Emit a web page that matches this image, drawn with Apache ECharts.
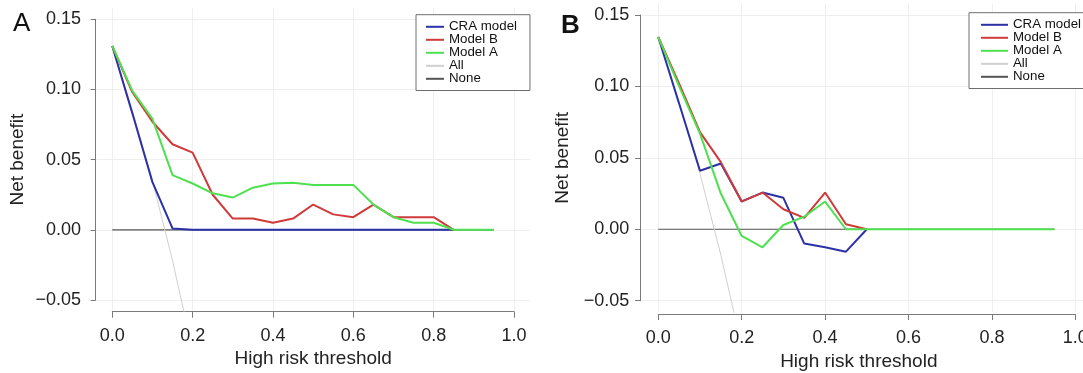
<!DOCTYPE html>
<html>
<head>
<meta charset="utf-8">
<script src="https://cdn.jsdelivr.net/npm/echarts@6/dist/echarts.min.js"></script>
<style>
  html, body { margin: 0; padding: 0; background: #fff; }
  #chart { width: 1083px; height: 373px; }
</style>
</head>
<body>
<div id="chart"></div>
<script>
// thresholds shared by every curve
const thresholds = [0, 0.05, 0.1, 0.15, 0.2, 0.25, 0.3, 0.35, 0.4, 0.45, 0.5, 0.55, 0.6, 0.65, 0.7, 0.75, 0.8, 0.85, 0.9, 0.95];
const xTicks = [0, 0.2, 0.4, 0.6, 0.8, 1.0];
const xTickLabels = ['0.0', '0.2', '0.4', '0.6', '0.8', '1.0'];
const yTicks = [-0.05, 0, 0.05, 0.1, 0.15];
const yTickLabels = ['\u22120.05', '0.00', '0.05', '0.10', '0.15'];
const seriesNames = ['CRA model', 'Model B', 'Model A', 'All', 'None'];

// panel A
const craA = [0.131, 0.083, 0.034, 0.001, 0, 0, 0, 0, 0, 0, 0, 0, 0, 0, 0, 0, 0, 0, null, null];
const modelBA = [0.131, 0.098, 0.077, 0.061, 0.055, 0.025, 0.008, 0.008, 0.005, 0.008, 0.018, 0.011, 0.009, 0.018, 0.009, 0.009, 0.009, 0, null, null];
const modelAA = [0.131, 0.099, 0.079, 0.039, 0.033, 0.026, 0.023, 0.030, 0.033, 0.0335, 0.032, 0.032, 0.032, 0.018, 0.009, 0.005, 0.005, 0, 0, 0];
const allA = [0.131, 0.085, 0.035, -0.022, -0.086];
const noneA = [0, 0, 0, 0, 0, 0, 0, 0, 0, 0, 0, 0, 0, 0, 0, 0, 0, 0, 0, 0];

// panel B
const craB = [0.1346, 0.088, 0.041, 0.046, 0.0195, 0.0257, 0.022, -0.010, -0.0126, -0.0157, 0, null, null, null, null, null, null, null, null, null];
const modelBB = [0.1346, 0.102, 0.068, 0.047, 0.0194, 0.0257, 0.014, 0.008, 0.0257, 0.0035, 0, null, null, null, null, null, null, null, null, null];
const modelAB = [0.1346, 0.100, 0.067, 0.025, -0.0047, -0.0126, 0.003, 0.0088, 0.0194, 0, 0, 0, 0, 0, 0, 0, 0, 0, 0, 0];
const allB = [0.1346, 0.088, 0.039, -0.018, -0.082];
const noneB = [0, 0, 0, 0, 0, 0, 0, 0, 0, 0, 0, 0, 0, 0, 0, 0, 0, 0, 0, 0];

const font = 'Liberation Sans, Arial, Helvetica, sans-serif';
const axisGray = '#7a7a7a';
const textColor = '#222';
const lineColors = { 'CRA model': '#2d31a6', 'Model B': '#d03a3a', 'Model A': '#4fe04f', 'All': '#cfcfcf', 'None': '#555555' };
const lineWidths = { 'CRA model': 2, 'Model B': 2, 'Model A': 2, 'All': 1, 'None': 1.2 };

const toPoints = (vals) => vals.map((v, i) => [thresholds[i], v]).filter(p => p[1] !== null);

const panels = [
    {
        plot: { left: 96.2, top: 8.1, width: 433.9, height: 303.1 },
        axes: { left: 112.3, top: 19.3, width: 401.7, height: 280.7 },
        xOffset: 11.7, yOffset: 16.6, yLabelMargin: 14.7, nameShift: 0,
        legend: { left: 416, top: 14.7, itemWidth: 18, padding: [5.6, 13, 5.2, 10] },
        label: { text: 'A', left: 13, top: 11, weight: 'normal' },
        data: { 'CRA model': craA, 'Model B': modelBA, 'Model A': modelAA, 'All': allA, 'None': noneA }
    },
    {
        plot: { left: 641.6, top: 3.6, width: 450.4, height: 308.5 },
        axes: { left: 658.3, top: 15, width: 417, height: 285.7 },
        xOffset: 13.3, yOffset: 18.3, yLabelMargin: 10.7, nameShift: 16,
        legend: { left: 969, top: 12.7, itemWidth: 27, padding: [5.6, 8, 5.2, 12] },
        label: { text: 'B', left: 561, top: 13, weight: 'bold' },
        data: { 'CRA model': craB, 'Model B': modelBB, 'Model A': modelAB, 'All': allB, 'None': noneB }
    }
];

const grid = [], xAxis = [], yAxis = [], series = [], legend = [], graphic = [];

panels.forEach((p, k) => {
    const plotIdx = k * 2, axesIdx = k * 2 + 1;
    grid.push({ ...p.plot, containLabel: false, outerBoundsMode: 'none' });
    grid.push({ ...p.axes, containLabel: false, outerBoundsMode: 'none' });

    // plot region: faint grid lines only
    xAxis.push({
        type: 'value', gridIndex: plotIdx, min: -0.04, max: 1.04,
        axisLine: { show: false }, axisLabel: { show: false },
        axisTick: { show: false, customValues: xTicks },
        splitLine: { show: true, lineStyle: { color: '#efefef', width: 1 } }
    });
    yAxis.push({
        type: 'value', gridIndex: plotIdx, min: -0.058, max: 0.158,
        axisLine: { show: false }, axisLabel: { show: false },
        axisTick: { show: false, customValues: yTicks },
        splitLine: { show: true, lineStyle: { color: '#efefef', width: 1 } }
    });

    // axis lines, ticks and labels spanning the tick range, pushed out from the plot
    xAxis.push({
        type: 'value', gridIndex: axesIdx, min: 0, max: 1, interval: 0.2,
        position: 'bottom', offset: p.xOffset,
        axisLine: { show: true, onZero: false, lineStyle: { color: axisGray, width: 1 } },
        axisTick: { show: true, length: 6, lineStyle: { color: axisGray } },
        axisLabel: {
            margin: 15, color: textColor, fontSize: 18, fontFamily: font,
            formatter: (v, i) => xTickLabels[i]
        },
        splitLine: { show: false },
        name: 'High risk threshold', nameLocation: 'middle', nameGap: 37,
        nameTextStyle: { fontSize: 19, color: textColor, fontFamily: font, padding: [0, p.nameShift, 0, 0] }
    });
    yAxis.push({
        type: 'value', gridIndex: axesIdx, min: -0.05, max: 0.15, interval: 0.05,
        position: 'left', offset: p.yOffset,
        axisLine: { show: true, onZero: false, lineStyle: { color: axisGray, width: 1 } },
        axisTick: { show: true, length: 5, lineStyle: { color: axisGray } },
        axisLabel: {
            margin: p.yLabelMargin, color: textColor, fontSize: 18, fontFamily: font,
            formatter: (v, i) => yTickLabels[i]
        },
        splitLine: { show: false },
        name: 'Net benefit', nameLocation: 'middle', nameGap: 68,
        nameTextStyle: { fontSize: 19, color: textColor, fontFamily: font }
    });

    // draw None and All first so the models sit on top
    ['None', 'All', 'CRA model', 'Model B', 'Model A'].forEach(name => {
        series.push({
            name, type: 'line', xAxisIndex: plotIdx, yAxisIndex: plotIdx,
            data: toPoints(p.data[name]),
            symbol: 'none', smooth: false, clip: true,
            lineStyle: { color: lineColors[name], width: lineWidths[name] },
            itemStyle: { color: lineColors[name] },
            emphasis: { disabled: true }
        });
    });

    legend.push({
        orient: 'vertical', left: p.legend.left, top: p.legend.top,
        padding: p.legend.padding, itemGap: 0,
        itemWidth: p.legend.itemWidth, itemHeight: 2, icon: 'rect',
        borderColor: '#6e6e6e', borderWidth: 1, borderRadius: 0,
        backgroundColor: '#fff', selectedMode: false,
        textStyle: { fontSize: 13.3, lineHeight: 12.75, color: '#111', fontFamily: font, padding: 0 },
        data: seriesNames
    });

    graphic.push({
        type: 'text', left: p.label.left, top: p.label.top,
        style: { text: p.label.text, font: p.label.weight + ' 26px ' + font, fill: '#111' }
    });
});

const myChart = echarts.init(document.getElementById('chart'), null, { renderer: 'canvas' });
myChart.setOption({
    animation: false,
    backgroundColor: '#fff',
    grid, xAxis, yAxis, series, legend, graphic
});
</script>
</body>
</html>
